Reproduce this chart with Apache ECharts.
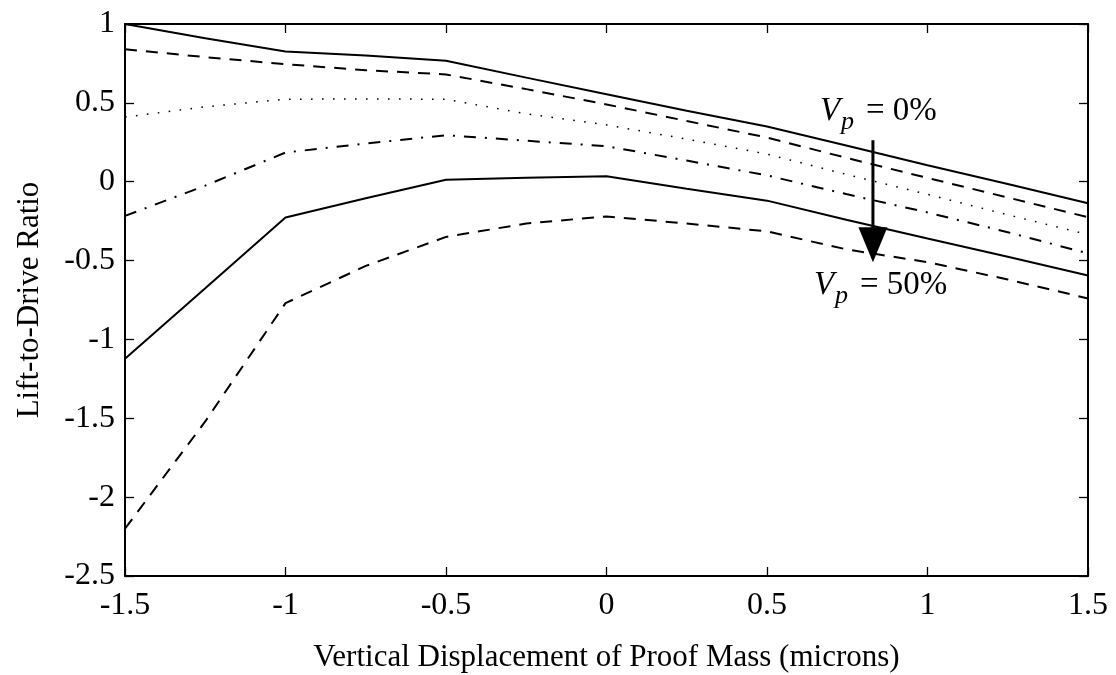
<!DOCTYPE html>
<html>
<head>
<meta charset="utf-8">
<script src="https://cdn.jsdelivr.net/npm/echarts@6/dist/echarts.min.js"></script>
<style>
  html, body { margin: 0; padding: 0; background: #fff; }
  #chart { width: 1116px; height: 675px; }
</style>
</head>
<body>
<div id="chart"></div>
<script>
// displacement (microns)
const xValues = [-1.5, -1.25, -1, -0.75, -0.5, -0.25, 0, 0.25, 0.5, 0.75, 1, 1.25, 1.5];

// lift-to-drive ratio, one array per curve (top to bottom at x = 1.5)
const solidTop   = [1.0, 0.91, 0.826, 0.80, 0.767, 0.66, 0.555, 0.45, 0.35, 0.228, 0.105, -0.015, -0.136];
const dashedTop  = [0.84, 0.79, 0.745, 0.707, 0.68, 0.587, 0.49, 0.385, 0.28, 0.15, 0.024, -0.10, -0.225];
const dotted     = [0.41, 0.475, 0.523, 0.525, 0.523, 0.43, 0.36, 0.27, 0.175, 0.045, -0.08, -0.21, -0.335];
const dashDot    = [-0.217, -0.025, 0.185, 0.242, 0.295, 0.26, 0.225, 0.134, 0.04, -0.08, -0.195, -0.32, -0.455];
const solidLow   = [-1.122, -0.675, -0.227, -0.105, 0.012, 0.025, 0.035, -0.045, -0.12, -0.243, -0.36, -0.476, -0.595];
const dashedLow  = [-2.2, -1.52, -0.77, -0.534, -0.35, -0.265, -0.22, -0.265, -0.315, -0.43, -0.51, -0.62, -0.74];

// annotation arrow (data coords)
const arrowX = 0.83;
const arrowFrom = 0.263;
const arrowTo = -0.51;

const ink = '#000';
const font = "'Liberation Serif', 'Times New Roman', serif";

let chart = echarts.init(document.getElementById('chart'), null, { renderer: 'canvas' });

function pairs(ys) {
  return xValues.map((x, i) => [x, ys[i]]);
}

function line(name, ys, type, width) {
  return {
    name: name,
    type: 'line',
    data: pairs(ys),
    symbol: 'none',
    animation: false,
    lineStyle: { color: ink, width: width || 2, type: type }
  };
}

let axisCommon = {
  type: 'value',
  splitLine: { show: false },
  axisLine: { show: true, onZero: false, lineStyle: { color: ink, width: 2 } },
  axisTick: { show: true, inside: true, length: 9, lineStyle: { color: ink, width: 1.3 } }
};

let option = {
  backgroundColor: '#fff',
  animation: false,
  grid: { left: 125, right: 28, top: 24, bottom: 99, outerBoundsMode: 'none', containLabel: false },
  xAxis: [
    Object.assign({}, axisCommon, {
      min: -1.5, max: 1.5, interval: 0.5,
      position: 'bottom',
      name: 'Vertical Displacement of Proof Mass (microns)',
      nameLocation: 'middle',
      nameGap: 66,
      nameTextStyle: { fontFamily: font, fontSize: 31, color: ink },
      axisLabel: { fontFamily: font, fontSize: 32, color: ink, margin: 14 }
    }),
    Object.assign({}, axisCommon, {
      min: -1.5, max: 1.5, interval: 0.5,
      position: 'top',
      axisLabel: { show: false }
    })
  ],
  yAxis: [
    Object.assign({}, axisCommon, {
      min: -2.5, max: 1, interval: 0.5,
      position: 'left',
      name: 'Lift-to-Drive Ratio',
      nameLocation: 'middle',
      nameRotate: 90,
      nameGap: 80,
      nameTextStyle: { fontFamily: font, fontSize: 31, color: ink },
      axisLabel: { fontFamily: font, fontSize: 32, color: ink, margin: 10 }
    }),
    Object.assign({}, axisCommon, {
      min: -2.5, max: 1, interval: 0.5,
      position: 'right',
      axisLabel: { show: false }
    })
  ],
  series: [
    line('solidTop', solidTop, 'solid'),
    line('dashedTop', dashedTop, [12, 9]),
    line('dotted', dotted, [1.6, 9.4], 1.5),
    line('dashDot', dashDot, [12, 9, 2, 9]),
    line('solidLow', solidLow, 'solid'),
    line('dashedLow', dashedLow, [12, 9])
  ]
};

chart.setOption(option);

// arrow and V_p labels, placed from data coords
let arrowTop = chart.convertToPixel({ xAxisIndex: 0, yAxisIndex: 0 }, [arrowX, arrowFrom]);
let arrowTip = chart.convertToPixel({ xAxisIndex: 0, yAxisIndex: 0 }, [arrowX, arrowTo]);
let headH = 35, headW = 29;

function label(x, y, pct) {
  return [
    { type: 'text', left: x, top: y, style: { text: 'V', font: 'italic 33px ' + font, fill: ink } },
    { type: 'text', left: x + 21, top: y + 14, style: { text: 'p', font: 'italic 26px ' + font, fill: ink } },
    { type: 'text', left: x + 46, top: y, style: { text: '= ' + pct, font: '33px ' + font, fill: ink } }
  ];
}

chart.setOption({
  graphic: [
    {
      type: 'line',
      shape: { x1: arrowTop[0], y1: arrowTop[1], x2: arrowTip[0], y2: arrowTip[1] - headH + 2 },
      style: { stroke: ink, lineWidth: 3 }
    },
    {
      type: 'polygon',
      shape: { points: [[arrowTip[0] - headW / 2, arrowTip[1] - headH], [arrowTip[0] + headW / 2, arrowTip[1] - headH], [arrowTip[0], arrowTip[1]]] },
      style: { fill: ink }
    }
  ].concat(label(arrowTop[0] - 53, arrowTop[1] - 45, '0%'), label(arrowTip[0] - 59, arrowTip[1] + 7, '50%'))
});
</script>
</body>
</html>
